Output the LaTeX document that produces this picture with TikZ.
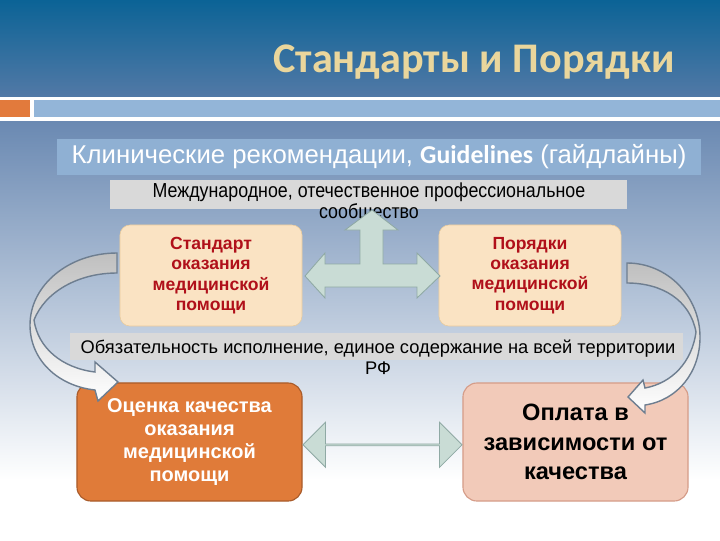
\documentclass[tikz,border=0pt]{standalone}
\usepackage{fontspec}
\setmainfont{Liberation Sans}
\newfontfamily\titlefont{Carlito}
\newfontfamily\narrowfont[FakeStretch=0.88]{Liberation Sans}
\usetikzlibrary{shapes.arrows,calc}

\definecolor{slidetop}{HTML}{0B6396}
\definecolor{slidemid}{HTML}{5279A6}
\definecolor{slidelow}{HTML}{6A89B2}
\definecolor{accentorange}{HTML}{E27A3C}
\definecolor{barblue}{HTML}{93B5D8}
\definecolor{bandblue}{HTML}{8FB0D3}
\definecolor{titletan}{HTML}{EAD69C}
\definecolor{peach}{HTML}{FAE3C3}
\definecolor{peachline}{HTML}{E9CB9C}
\definecolor{darkred}{HTML}{B0101A}
\definecolor{qualorange}{HTML}{E07B39}
\definecolor{qualline}{HTML}{A95B2A}
\definecolor{salmon}{HTML}{F2CAB9}
\definecolor{salmonline}{HTML}{D59C88}
\definecolor{arrowgreen}{HTML}{C9DCD5}
\definecolor{arrowline}{HTML}{8FA9A4}
\definecolor{curveline}{HTML}{6E7E90}
\definecolor{bargray}{HTML}{D9D9D9}

\begin{document}
\begin{tikzpicture}[
    x=0.025cm, y=-0.025cm,
    topbox/.style={
        rectangle,
        rounded corners=0.25cm,
        draw=peachline,
        fill=peach,
        minimum width=4.55cm,
        minimum height=2.525cm,
        align=center,
        text=darkred,
        font=\bfseries\fontsize{12.5}{14.5}\selectfont,
        inner sep=2pt
    },
    lowbox/.style={
        rectangle,
        rounded corners=0.35cm,
        thick,
        minimum width=5.625cm,
        minimum height=2.95cm,
        align=center
    },
    blockarrow/.style={
        fill=arrowgreen,
        draw=arrowline,
        line width=0.6pt
    },
    curvearrow/.style={
        top color=gray!50,
        bottom color=white,
        draw=curveline,
        line width=1pt
    }
]
\useasboundingbox (0,0) rectangle (720,540);

% Background
\shade[top color=slidetop, bottom color=slidemid] (0,0) rectangle (720,97);
\fill[white] (0,97) rectangle (720,121);
\fill[accentorange] (0,100) rectangle (30,117);
\fill[barblue] (34,100) rectangle (720,117);
\shade[top color=slidelow, bottom color=white] (0,121) rectangle (720,480);
\fill[white] (0,480) rectangle (720,540);

% Title
\node[font=\titlefont\bfseries\fontsize{30}{36}\selectfont, text=titletan] (title) at (474,62) {Стандарты и Порядки};

% Guidelines band
\node[fill=bandblue, minimum width=16.1cm, minimum height=0.9cm, text=white,
      font=\fontsize{18.3}{22}\selectfont] (guide) at (379,157)
      {Клинические рекомендации, {\titlefont\bfseries Guidelines} (гайдлайны)};

% Community
\fill[bargray] (110,180) rectangle (627,209);
\node[align=center, font=\narrowfont\fontsize{14.4}{15}\selectfont] (community) at (369,203)
      {Международное, отечественное профессиональное\\сообщество};

% Standard and order
\node[topbox] (standard) at (211,275.5) {Стандарт\\оказания\\медицинской\\помощи};
\node[topbox] (order) at (530,275.5) {Порядки\\оказания\\медицинской\\помощи};

% Obligation bar
\fill[bargray] (70,333) rectangle (683,360);
\node[align=center, font=\fontsize{13}{15}\selectfont] (duty) at (378,357)
      {Обязательность исполнение, единое содержание на всей территории\\РФ};

% T arrow
\draw[blockarrow] (305,276) -- (325,253) -- (325,264) -- (360,264) -- (360,230)
    -- (345,230) -- (372,210) -- (398,230) -- (383,230) -- (383,264) -- (417,264)
    -- (417,253) -- (440,276) -- (417,298) -- (417,287) -- (325,287) -- (325,298) -- cycle;

% Quality and payment
\node[lowbox, fill=qualorange, draw=qualline, text=white,
      font=\bfseries\fontsize{14.2}{16.5}\selectfont] (quality) at (189.5,442)
      {Оценка качества\\оказания\\медицинской\\помощи};
\node[lowbox, fill=salmon, draw=salmonline,
      font=\bfseries\fontsize{16.8}{21}\selectfont] (payment) at (575.5,442)
      {Оплата в\\зависимости от\\качества};

% Arrows
\node[double arrow, blockarrow, minimum height=3.975cm, minimum width=1.125cm, inner sep=0pt,
      double arrow head extend=0.26cm, yshift=-2pt] (link) at ($(quality.east)!0.5!(payment.west)$) {};

\draw[curvearrow] (117,253) .. controls (69,253) and (30,285) .. (30,325)
    .. controls (30,360) and (58,386) .. (95,390) -- (98,401) -- (118,382) -- (95,362)
    -- (95,372) .. controls (62,368) and (38,348) .. (34,320)
    .. controls (45,292) and (78,273) .. (117,273) -- cycle;
\draw[curvearrow] (627,263) .. controls (668,263) and (700,297) .. (700,337)
    .. controls (700,372) and (678,400) .. (645,405) -- (645,413) -- (628,397) -- (643,380)
    -- (645,388) .. controls (672,383) and (692,362) .. (696,332)
    .. controls (690,300) and (662,283) .. (627,283) -- cycle;

\end{tikzpicture}
\end{document}
